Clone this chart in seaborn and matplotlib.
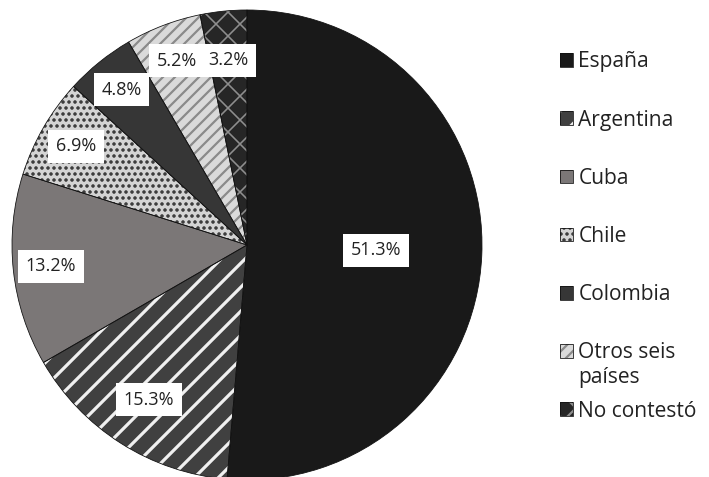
import numpy as np
import matplotlib
matplotlib.use("Agg")
import matplotlib.pyplot as plt
import seaborn as sns
from matplotlib.legend_handler import HandlerTuple

# Country of origin of respondents (percent)
categories = ["España", "Argentina", "Cuba", "Chile", "Colombia",
              "Otros seis\npaíses", "No contestó"]
shares = [51.3, 15.3, 13.2, 6.9, 4.8, 5.2, 3.2]

# Fill, hatch and hatch colour for each slice (greyscale print style)
face_colors = ["#191919", "#404040", "#7b7777", "#d4d4d4", "#363636", "#dadada", "#262626"]
hatch_colors = ["#191919", "#f0f0f0", "#7b7777", "#2a2a2a", "#363636", "#8a8a8a", "#8e8e8e"]
hatches = [None, "/", None, "..", None, "//", "x"]
hatch_widths = [1.0, 3.2, 1.0, 2.2, 1.0, 2.2, 1.6]
label_dist = [0.55, 0.78, 0.84, 0.84, 0.85, 0.84, 0.79]

sns.set_theme(style="white")
plt.rcParams["font.family"] = ["Open Sans", "DejaVu Sans"]
plt.rcParams["text.color"] = "#222222"
plt.rcParams["hatch.linewidth"] = 2.2

DPI = 72
W, H = 709, 477
fig = plt.figure(figsize=(W / DPI, H / DPI), dpi=DPI)
ax = fig.add_axes([12 / W, -3 / H, 470 / W, 470 / H])

# Filled, hatched layer
fills, _ = ax.pie(shares, startangle=90, counterclock=False, radius=1,
                  colors=face_colors,
                  wedgeprops=dict(linewidth=0))
for w, hc, h, hw in zip(fills, hatch_colors, hatches, hatch_widths):
    w.set_edgecolor(hc)
    if h:
        w.set_hatch(h)
        if hasattr(w, "set_hatch_linewidth"):
            w.set_hatch_linewidth(hw)

# Thin black outlines on top
outlines, _ = ax.pie(shares, startangle=90, counterclock=False, radius=1,
                     wedgeprops=dict(fill=False, edgecolor="#111111", linewidth=0.8))

ax.set_xlim(-1, 1)
ax.set_ylim(-1, 1)
ax.set_aspect("equal")
ax.axis("off")

# Percentage labels in white boxes
for w, v, d in zip(fills, shares, label_dist):
    ang = np.deg2rad((w.theta1 + w.theta2) / 2)
    ax.text(d * np.cos(ang), d * np.sin(ang), f"{v:.1f}%",
            ha="center", va="center", fontsize=18, color="#222222",
            bbox=dict(boxstyle="square,pad=0.42", fc="white", ec="none"))

# Legend: first line of each name beside its swatch
first_lines = [c.split("\n")[0] for c in categories]
leg = fig.legend([(f, o) for f, o in zip(fills, outlines)], first_lines,
                 handler_map={tuple: HandlerTuple(ndivide=1, pad=0)},
                 loc="upper left", bbox_to_anchor=(560 / W, 1 - 51.5 / H),
                 frameon=False, fontsize=21, borderpad=0, borderaxespad=0,
                 handlelength=0.62, handleheight=0.62, handletextpad=0.25,
                 labelspacing=1.77)

# Continuation lines for multi-line names, set under their first line
fig.canvas.draw()
for txt, full in zip(leg.get_texts(), categories):
    rest = full.split("\n")[1:]
    bb = txt.get_window_extent()
    for k, line in enumerate(rest, start=1):
        fig.text(bb.x0 / W, (bb.y0 - 20 - 25 * (k - 1)) / H, line,
                 va="baseline", ha="left", fontsize=21, color="#222222")

fig.savefig("out.png", dpi=DPI)
